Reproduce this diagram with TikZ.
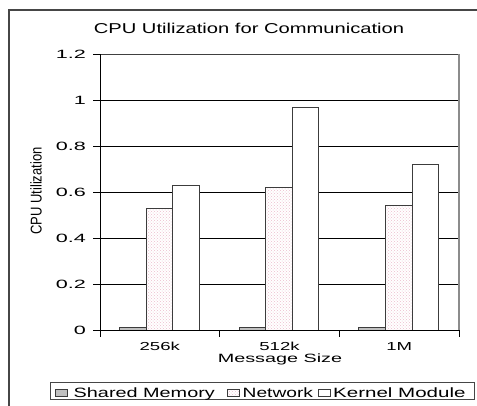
\documentclass[tikz,border=0pt]{standalone}
\usepackage{fontspec}
\setmainfont{Liberation Sans}
\usepackage{graphicx}
\usetikzlibrary{patterns}
\newcommand{\hsc}[2]{\scalebox{#1}[1]{#2}}
\definecolor{smgrey}{RGB}{192,192,192}
\definecolor{netpink}{RGB}{236,190,205}
\definecolor{edgegrey}{RGB}{60,60,60}
\definecolor{framegrey}{RGB}{70,70,70}
\begin{document}
\begin{tikzpicture}[x=1pt,y=-1pt,
  bar/.style={draw=edgegrey,line width=0.8pt},
  smbar/.style={bar,fill=smgrey},
  netbar/.style={bar,pattern=crosshatch dots,pattern color=netpink,preaction={fill=white}},
  kmbar/.style={bar,fill=white},
  grid/.style={line width=0.8pt,black},
  lbl/.style={inner sep=0pt,text=black},
  ytick/.style={lbl,anchor=east,font=\fontsize{12}{13}\selectfont},
  xtick/.style={lbl,anchor=base,font=\fontsize{11.6}{12}\selectfont},
  legtxt/.style={lbl,anchor=base west,font=\fontsize{13.5}{14}\selectfont},
  legsq/.style={draw=edgegrey,line width=0.8pt,minimum width=12.5pt,minimum height=7.4pt,inner sep=0pt}
]
\useasboundingbox (0,0) rectangle (477,405);
\fill[white] (0,0) rectangle (477,405);
% outer frame
\draw[line width=1.3pt,framegrey] (9,410) -- (9,10) -- (480,10);
% title
\node[lbl,anchor=base,font=\fontsize{14.3}{15}\selectfont] (title) at (249,33.5) {\hsc{1.41}{CPU Utilization for Communication}};
% gridlines
\foreach \v in {1,...,5} {
  \draw[grid] (100,{330-\v*46}) -- (459,{330-\v*46});
}
\draw[line width=0.9pt,black!75] (100,54) -- (459,54);
\draw[line width=1.2pt,black!45] (459,54) -- (459,330);
% bars
\foreach \i/\a/\b/\c in {0/0.01/0.53/0.63, 1/0.01/0.62/0.97, 2/0.01/0.54/0.72} {
  \pgfmathsetmacro\s{100+\i*119.67+19.4}
  \draw[smbar] (\s,330) rectangle ({\s+26.6},{330-\a*230});
  \draw[netbar] ({\s+26.6},330) rectangle ({\s+53.2},{330-\b*230});
  \draw[kmbar] ({\s+53.2},330) rectangle ({\s+79.8},{330-\c*230});
}
% axes
\draw[line width=0.9pt,black] (100,54) -- (100,330) -- (459,330);
\foreach \v in {0,...,6} {
  \draw[line width=0.9pt,black] (93,{330-\v*46}) -- (100,{330-\v*46});
}
\foreach \k in {0,1,2,3} {
  \draw[line width=0.9pt,black] ({100+\k*119.67},330) -- ({100+\k*119.67},337);
}
% y tick labels
\node[ytick] (y0) at (86,330) {\hsc{1.8}{0}};
\node[ytick] (y1) at (86,284) {\hsc{1.8}{0.2}};
\node[ytick] (y2) at (86,238) {\hsc{1.8}{0.4}};
\node[ytick] (y3) at (86,192) {\hsc{1.8}{0.6}};
\node[ytick] (y4) at (86,146) {\hsc{1.8}{0.8}};
\node[ytick] (y5) at (86,100) {\hsc{1.8}{1}};
\node[ytick] (y6) at (86,54) {\hsc{1.8}{1.2}};
% axis title y
\node[lbl,rotate=90,font=\fontsize{13}{14}\selectfont] (ylabel) at (36,191) {\scalebox{1}[1.2]{CPU Utilization}};
% x tick labels
\node[xtick] (x1) at (159.8,350.5) {\hsc{1.6}{256k}};
\node[xtick] (x2) at (279.5,350.5) {\hsc{1.6}{512k}};
\node[xtick] (x3) at (399.2,350.5) {\hsc{1.6}{1M}};
\node[lbl,anchor=base,font=\fontsize{12}{13}\selectfont] (xlabel) at (280,362.5) {\hsc{1.65}{Message Size}};
% legend
\node[draw=framegrey,line width=0.9pt,minimum width=424pt,minimum height=16.5pt,inner sep=0pt] (legend) at (262,391) {};
\node[legsq,fill=smgrey] (k1) at (61.2,393) {};
\node[legtxt] (t1) at (73.5,397.4) {\hsc{1.47}{Shared Memory}};
\node[legsq,pattern=crosshatch dots,pattern color=netpink] (k2) at (233.5,393) {};
\node[legtxt] (t2) at (242.5,397.4) {\hsc{1.42}{Network}};
\node[legsq,fill=white] (k3) at (324.2,393) {};
\node[legtxt] (t3) at (333,397.4) {\hsc{1.52}{Kernel Module}};
\end{tikzpicture}
\end{document}
